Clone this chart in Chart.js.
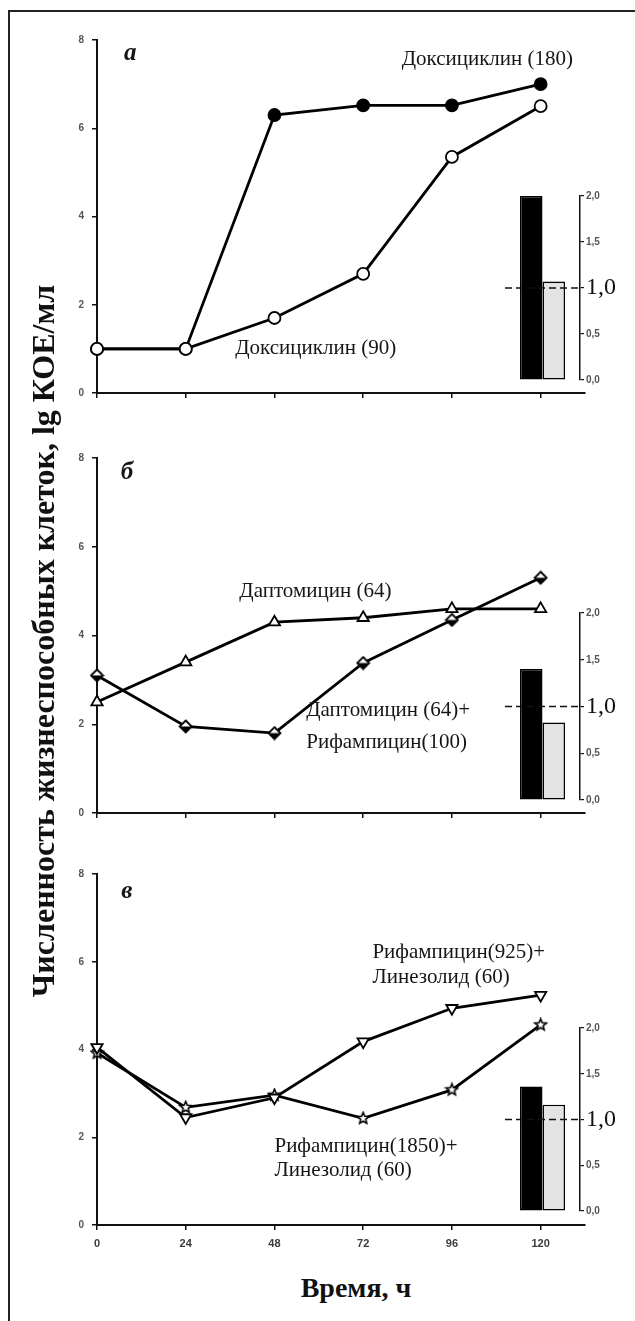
<!DOCTYPE html>
<html>
<head>
<meta charset="utf-8">
<script src="https://cdn.jsdelivr.net/npm/chart.js@4.4.0/dist/chart.umd.min.js"></script>
<style>
body{margin:0;background:#fff;}
#page{position:relative;width:635px;height:1321px;overflow:hidden;background:#fff;}
#frame{position:absolute;left:8px;top:10px;width:700px;height:1400px;border-left:2px solid #222;border-top:2px solid #222;}
canvas{position:absolute;}
#ytitle{position:absolute;left:-405px;top:621px;width:900px;height:40px;line-height:40px;text-align:center;
  transform:rotate(-90deg);font:bold 32px "Liberation Serif";color:#111;white-space:nowrap;}
#xtitle{position:absolute;left:256px;top:1272px;width:200px;height:36px;line-height:36px;text-align:center;
  font:bold 28px "Liberation Serif";color:#111;}
</style>
</head>
<body>
<div id="page">
  <div id="frame"></div>
  <canvas id="lineA"></canvas>
  <canvas id="lineB"></canvas>
  <canvas id="lineC"></canvas>
  <canvas id="barA"></canvas>
  <canvas id="barB"></canvas>
  <canvas id="barC"></canvas>
  <div id="ytitle">Численность жизнеспособных клеток, lg КОЕ/мл</div>
  <div id="xtitle">Время, ч</div>
</div>
<script>
// time points and ticks
const hours = [0, 24, 48, 72, 96, 120];
const yTicks = [0, 2, 4, 6, 8];
const barTicks = [0, 0.5, 1.0, 1.5, 2.0];
const refLevel = 1.0;

// панель а
const doxy180 = [1.0, 1.0, 6.3, 6.52, 6.52, 7.0];
const doxy90 = [1.0, 1.0, 1.7, 2.7, 5.35, 6.5];
const barsA = [2.0, 1.07];

// панель б
const dapto64 = [2.5, 3.4, 4.3, 4.4, 4.6, 4.6];
const daptoRif = [3.1, 1.95, 1.8, 3.38, 4.35, 5.3];
const barsB = [1.4, 0.83];

// панель в
const rif925Lin = [4.05, 2.45, 2.9, 4.18, 4.94, 5.24];
const rif1850Lin = [3.92, 2.68, 2.96, 2.43, 3.08, 4.56];
const barsC = [1.36, 1.16];

const serif = '"Liberation Serif", "DejaVu Serif", serif';
const sans = '"Liberation Sans", Arial, sans-serif';
const noteFont = '21px ' + serif;
const letterFont = 'bold italic 25px ' + serif;

function placeCanvas(id, left, top, w, h) {
  const c = document.getElementById(id);
  c.width = w; c.height = h;
  c.style.left = left + 'px'; c.style.top = top + 'px';
  return c;
}

function notesPlugin(items) {
  return {
    id: 'notes',
    afterDatasetsDraw(chart) {
      const {ctx, scales: {x, y}} = chart;
      items.forEach(n => {
        ctx.save();
        ctx.font = n.font || noteFont;
        ctx.fillStyle = '#151515';
        ctx.textAlign = n.align || 'left';
        ctx.textBaseline = 'middle';
        ctx.fillText(n.text, x.getPixelForValue(n.x), y.getPixelForValue(n.y));
        ctx.restore();
      });
    }
  };
}

const dashPlugin = {
  id: 'dash',
  afterDatasetsDraw(chart) {
    const {ctx, chartArea, scales: {y}} = chart;
    const py = y.getPixelForValue(refLevel);
    ctx.save();
    ctx.strokeStyle = '#111';
    ctx.lineWidth = 1.5;
    ctx.setLineDash([7, 4]);
    ctx.beginPath();
    ctx.moveTo(chartArea.left, py);
    ctx.lineTo(chartArea.right, py);
    ctx.stroke();
    ctx.restore();
  }
};

function starImage(size) {
  const c = document.createElement('canvas');
  c.width = c.height = size;
  const g = c.getContext('2d');
  const r = size / 2 - 1.5, ri = r * 0.45;
  g.beginPath();
  for (let i = 0; i < 10; i++) {
    const a = -Math.PI / 2 + i * Math.PI / 5;
    const rr = i % 2 ? ri : r;
    g.lineTo(size / 2 + rr * Math.cos(a), size / 2 + rr * Math.sin(a));
  }
  g.closePath();
  g.fillStyle = '#fff'; g.fill();
  g.lineWidth = 1.6; g.strokeStyle = '#000'; g.stroke();
  return c;
}

// diamond, white on top and black below, like the scanned marker
function diamondImage(size) {
  const c = document.createElement('canvas');
  c.width = c.height = size;
  const g = c.getContext('2d');
  const m = size / 2, r = m - 1.5;
  g.beginPath();
  g.moveTo(m, m - r); g.lineTo(m + r, m); g.lineTo(m, m + r); g.lineTo(m - r, m); g.closePath();
  g.fillStyle = '#fff'; g.fill();
  g.beginPath();
  g.moveTo(m + r, m); g.lineTo(m, m + r); g.lineTo(m - r, m); g.closePath();
  g.fillStyle = '#000'; g.fill();
  g.beginPath();
  g.moveTo(m, m - r); g.lineTo(m + r, m); g.lineTo(m, m + r); g.lineTo(m - r, m); g.closePath();
  g.lineWidth = 1.8; g.strokeStyle = '#000'; g.stroke();
  return c;
}

function series(vals, style) {
  return Object.assign({
    data: hours.map((h, i) => ({x: h, y: vals[i]})),
    borderColor: '#000',
    borderWidth: 2.8,
    pointRadius: 6,
    pointBorderWidth: 1.8,
    pointBorderColor: '#000',
    pointBackgroundColor: '#fff',
    clip: false,
    tension: 0
  }, style);
}

function drawPanel(id, top, bottom, sets, notes, withLabels) {
  const left = 40, right = 600, xh = withLabels ? 32 : 17;
  const c = placeCanvas(id, left, top - 15, right - left, bottom - top + 15 + xh);
  new Chart(c, {
    type: 'line',
    data: {datasets: sets},
    options: {
      responsive: false, animation: false, devicePixelRatio: 1,
      layout: {padding: {top: 15, right: right - 585, left: 0, bottom: 0}},
      plugins: {legend: {display: false}, tooltip: {enabled: false}},
      scales: {
        x: {
          type: 'linear', min: 0, max: 132,
          afterBuildTicks: s => { s.ticks = hours.map(v => ({value: v})); },
          afterFit: s => { s.height = xh; },
          border: {color: '#111', width: 2},
          grid: {drawOnChartArea: false, tickLength: 5, color: '#111', lineWidth: 1.5},
          ticks: {display: withLabels, autoSkip: false, maxRotation: 0, padding: 7, color: '#3a3a3a',
                  font: {family: sans, size: 11, weight: 'bold'}}
        },
        y: {
          min: 0, max: 8,
          afterBuildTicks: s => { s.ticks = yTicks.map(v => ({value: v})); },
          afterFit: s => { s.width = 97 - left; },
          border: {color: '#111', width: 2},
          grid: {drawOnChartArea: false, tickLength: 5, color: '#111', lineWidth: 1.5},
          ticks: {padding: 8, color: '#555', font: {family: sans, size: 10, weight: 'bold'}}
        }
      }
    },
    plugins: [notesPlugin(notes)]
  });
}

function drawInset(id, y2, y0, vals) {
  const left = 480, w = 150, top = y2 - 10;
  const c = placeCanvas(id, left, top, w, y0 - top + 10);
  new Chart(c, {
    type: 'bar',
    data: {
      labels: [''],
      datasets: [
        {data: [vals[0]], backgroundColor: '#000', borderColor: '#000', borderWidth: 1.5,
         borderSkipped: false, categoryPercentage: 0.6, barPercentage: 1},
        {data: [vals[1]], backgroundColor: '#e3e3e3', borderColor: '#000', borderWidth: 1.5,
         borderSkipped: false, categoryPercentage: 0.6, barPercentage: 1}
      ]
    },
    options: {
      responsive: false, animation: false, devicePixelRatio: 1,
      layout: {padding: {top: 10, bottom: 10, left: 25, right: 0}},
      plugins: {legend: {display: false}, tooltip: {enabled: false}},
      scales: {
        x: {display: false},
        y: {
          position: 'right', min: 0, max: 2,
          afterBuildTicks: s => { s.ticks = barTicks.map(v => ({value: v})); },
          afterFit: s => { s.width = 50; },
          border: {color: '#111', width: 1.5},
          grid: {drawOnChartArea: false, tickLength: 4, color: '#111', lineWidth: 1.2},
          ticks: {
            padding: 2,
            callback: v => v.toFixed(1).replace('.', ','),
            color: ctx => ctx.tick && ctx.tick.value === refLevel ? '#111' : '#555',
            font: ctx => ctx.tick && ctx.tick.value === refLevel
              ? {family: serif, size: 24}
              : {family: sans, size: 10, weight: 'bold'}
          }
        }
      }
    },
    plugins: [dashPlugin]
  });
}

drawPanel('lineA', 40, 393, [
  series(doxy90, {}),
  series(doxy180, {pointBackgroundColor: '#000'})
], [
  {text: 'а', x: 9, y: 7.7, font: letterFont, align: 'center'},
  {text: 'Доксициклин (180)', x: 82.4, y: 7.55},
  {text: 'Доксициклин (90)', x: 37.4, y: 1.02}
], false);

drawPanel('lineB', 458, 813, [
  series(dapto64, {pointStyle: 'triangle', pointRadius: 6.5}),
  series(daptoRif, {pointStyle: diamondImage(15)})
], [
  {text: 'б', x: 8.1, y: 7.68, font: letterFont, align: 'center'},
  {text: 'Даптомицин (64)', x: 38.5, y: 5.0},
  {text: 'Даптомицин (64)+', x: 56.6, y: 2.32},
  {text: 'Рифампицин(100)', x: 56.6, y: 1.6}
], false);

drawPanel('lineC', 874, 1225, [
  series(rif925Lin, {pointStyle: 'triangle', pointRotation: 180, pointRadius: 6.5}),
  series(rif1850Lin, {pointStyle: starImage(15)})
], [
  {text: 'в', x: 8.1, y: 7.59, font: letterFont, align: 'center'},
  {text: 'Рифампицин(925)+', x: 74.5, y: 6.2},
  {text: 'Линезолид (60)', x: 74.5, y: 5.63},
  {text: 'Рифампицин(1850)+', x: 48, y: 1.8},
  {text: 'Линезолид (60)', x: 48, y: 1.25}
], true);

drawInset('barA', 196, 380, barsA);
drawInset('barB', 613, 800, barsB);
drawInset('barC', 1028, 1211, barsC);
</script>
</body>
</html>
